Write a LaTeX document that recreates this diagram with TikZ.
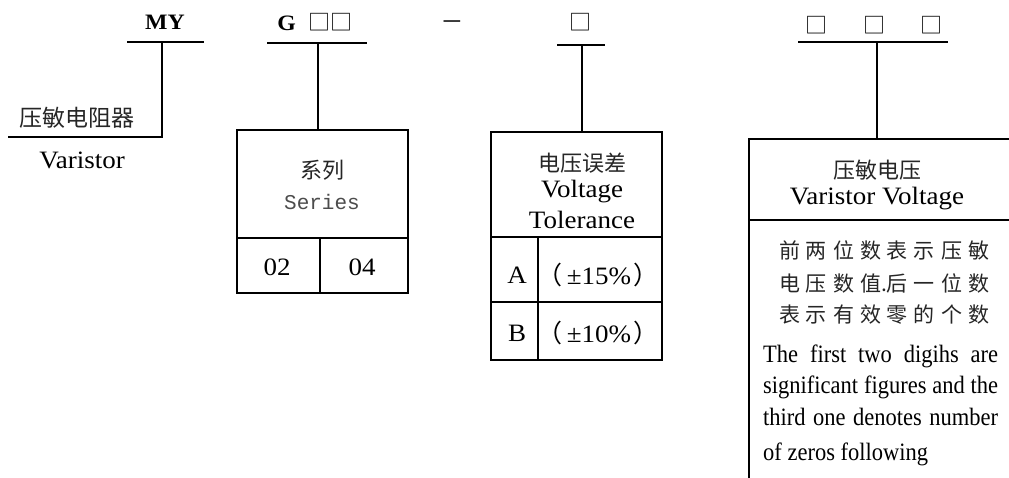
\documentclass[tikz,border=0pt]{standalone}
\usepackage{fontspec}
\setmainfont{Liberation Serif}[FakeStretch=1.08]
\newfontfamily\para{Liberation Serif}[FakeStretch=0.9]
\newfontfamily\cjk{Noto Sans CJK SC}
\newfontfamily\monof{Liberation Mono}
\newcommand\fsz[1]{\fontsize{#1}{#1}\selectfont}
\begin{document}
\begin{tikzpicture}[x=1pt,y=-1pt,
  lbl/.style={inner sep=0pt, font=\fsz{25}},
  zh/.style={inner sep=0pt, font=\cjk\fsz{22}, text=black!85},
  par/.style={inner sep=0pt, font=\para\fsz{25}, anchor=base west},
  bar/.style={line width=2.4pt},
  conn/.style={line width=1.8pt},
  frame/.style={draw, line width=1.8pt, inner sep=0pt}]
\useasboundingbox (0,0) rectangle (1009,477);
\fill[white] (0,0) rectangle (1009,477);

% ---- MY
\node[lbl, font=\bfseries\fsz{22}] (my) at (165,22) {MY};
\coordinate (myl) at (127,42); \coordinate (myr) at (204,42);
\coordinate (myc) at (162,42); \coordinate (myk) at (162,137); \coordinate (mye) at (8,137);
\draw[bar] (myl) -- (myr);
\draw[conn] (myc) -- (myk) -- (mye);
\node[zh, font=\cjk\fsz{23}] (ymz) at (77,118) {压敏电阻器};
\node[lbl] (ymen) at (82,160) {Varistor};

% ---- Series
\node[lbl, font=\bfseries\fsz{22}] (g) at (315,22) {G\hspace{13pt}{\cjk\mdseries □□}};
\coordinate (gl) at (267,43); \coordinate (gr) at (367,43); \coordinate (gc) at (318,43);
\draw[bar] (gl) -- (gr);
\node[frame, minimum width=171pt, minimum height=163pt] (sbox) at (322.5,211.5) {};
\draw[conn] (gc) -- (gc |- sbox.north);
\draw[conn] (237,238) -- (408,238);
\draw[conn] (320,238) -- (320,293);
\node[zh] (sz) at (322,170) {系列};
\node[lbl, font=\monof\fsz{21}, text=black!70] (sen) at (322,202) {Series};
\node[lbl] (s02) at (277,267) {02};
\node[lbl] (s04) at (362,267) {04};

% ---- dash
\node[lbl, font=\fsz{30}] (dash) at (452,25) {–};

% ---- Tolerance
\node[lbl, font=\cjk\fsz{22}] (tsq) at (580,22) {□};
\coordinate (tl) at (557,45); \coordinate (tr) at (605,45); \coordinate (tc) at (582,45);
\draw[bar] (tl) -- (tr);
\node[frame, minimum width=171pt, minimum height=228pt] (tbox) at (576.5,246) {};
\draw[conn] (tc) -- (tc |- tbox.north);
\draw[conn] (491,237) -- (662,237);
\draw[conn] (491,302) -- (662,302);
\draw[conn] (538,237) -- (538,360);
\node[zh] (tz) at (582,163) {电压误差};
\node[lbl] (tv) at (582,192) {Voltage};
\node[lbl] (tt) at (582,220) {Tolerance};
\node[lbl] (ta) at (517,275) {A};
\node[lbl] (ta2) at (598,275) {{\cjk （}\hspace{4pt}±15\%\hspace{2pt}{\cjk ）}};
\node[lbl] (tb) at (517,333) {B};
\node[lbl] (tb2) at (598,333) {{\cjk （}\hspace{4pt}±10\%\hspace{2pt}{\cjk ）}};

% ---- Varistor voltage
\node[lbl, font=\cjk\fsz{22}] (vsq) at (874,25) {□\hspace{36pt}□\hspace{36pt}□};
\coordinate (vl) at (798,42); \coordinate (vr) at (948,42); \coordinate (vc) at (877,42);
\draw[bar] (vl) -- (vr);
\node[frame, minimum width=275pt, minimum height=350pt, anchor=north west] (vbox) at (748,138) {};
\draw[conn] (vc) -- (vc |- vbox.north);
\draw[conn] (748,220) -- (1015,220);
\node[zh] (vz) at (877,170) {压敏电压};
\node[lbl] (ven) at (877,199) {Varistor Voltage};
\node[zh, font=\cjk\fsz{21}] (c1) at (884,250) {\makebox[210pt]{前\hfill 两\hfill 位\hfill 数\hfill 表\hfill 示\hfill 压\hfill 敏}};
\node[zh, font=\cjk\fsz{21}] (c2) at (884,283) {\makebox[210pt]{电\hfill 压\hfill 数\hfill 值\rlap{.}\hfill 后\hfill 一\hfill 位\hfill 数}};
\node[zh, font=\cjk\fsz{21}] (c3) at (884,315) {\makebox[210pt]{表\hfill 示\hfill 有\hfill 效\hfill 零\hfill 的\hfill 个\hfill 数}};
\node[par] (e1) at (763,362) {\makebox[235pt][s]{The first two digihs are}};
\node[par] (e2) at (763,393) {\makebox[235pt][s]{significant figures and the}};
\node[par] (e3) at (763,425) {\makebox[235pt][s]{third one denotes number}};
\node[par] (e4) at (763,460) {of zeros following};
\end{tikzpicture}
\end{document}
